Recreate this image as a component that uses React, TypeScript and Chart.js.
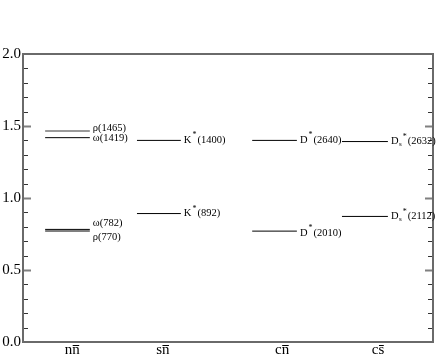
import React, { useEffect, useRef } from "react";
import { Chart, registerables } from "chart.js";

Chart.register(...registerables);

// ---- data ----
const categories = ["nn\u0304", "sn\u0304", "cn\u0304", "cs\u0304"];
const stateNames = [
  "ρ(1465)", "ω(1419)", "ω(782)", "ρ(770)",
  "K^*(1400)", "K^*(892)",
  "D^*(2640)", "D^*(2010)",
  "D_s^*(2632)", "D_s^*(2112)",
];
const stateCategory = [0, 0, 0, 0, 1, 1, 2, 2, 3, 3];
const stateValues = [1.465, 1.419, 0.782, 0.770, 1.400, 0.892, 1.400, 0.770, 1.392, 0.872];
const yTicks = [0.0, 0.5, 1.0, 1.5, 2.0];

// ---- layout / style (not data) ----
const catLabelPos = [1.2, 3.41, 6.32, 8.66];
const segStart = [0.54, 2.78, 5.59, 7.78];
const segEnd = [1.63, 3.85, 6.68, 8.9];
const stateColor = ["#9a9a9a", "#000", "#000", "#555", "#000", "#000", "#000", "#000", "#000", "#000"];
const stateWidth = [2, 1, 1, 1.5, 1, 1, 1, 1, 1, 1];
const labelDy = [-3, 1, -6, 6, 0, 0, 0, 2, 0, 0];
const SERIF = "'Liberation Serif', 'DejaVu Serif', serif";

function parseLabel(s: string) {
  const m = s.match(/^([^_^(]+)(?:_(\w))?(?:\^(\*))?(\(.*\))$/);
  if (!m) return { base: s, sub: "", sup: "", rest: "" };
  return { base: m[1], sub: m[2] || "", sup: m[3] || "", rest: m[4] };
}

const decorPlugin = {
  id: "decor",
  afterDraw(chart: any) {
    const ctx = chart.ctx as CanvasRenderingContext2D;
    const { left, right, top, bottom } = chart.chartArea;
    const ys = chart.scales.y;
    const xs = chart.scales.x;
    ctx.save();
    // ticks
    for (let i = 1; i < 20; i++) {
      const v = i / 10;
      const py = Math.round(ys.getPixelForValue(v)) + 0.5;
      const major = i % 5 === 0;
      ctx.beginPath();
      ctx.strokeStyle = major ? "#808080" : "#333";
      ctx.lineWidth = major ? 2 : 1;
      const len = major ? 8 : 5;
      ctx.moveTo(left, py);
      ctx.lineTo(left + len, py);
      ctx.moveTo(right, py);
      ctx.lineTo(right - len, py);
      ctx.stroke();
    }
    // frame
    ctx.strokeStyle = "#6a6a6a";
    ctx.lineWidth = 2;
    ctx.strokeRect(left, top, right - left, bottom - top);

    // y tick labels
    ctx.fillStyle = "#000";
    ctx.font = `15px ${SERIF}`;
    ctx.textAlign = "right";
    ctx.textBaseline = "middle";
    yTicks.forEach((v) => {
      ctx.fillText(v.toFixed(1), left - 2, ys.getPixelForValue(v));
    });

    // category labels
    ctx.textBaseline = "top";
    ctx.textAlign = "left";
    categories.forEach((c, i) => {
      const txt = c.replace("\u0304", "");
      const w = ctx.measureText(txt).width;
      const lastW = ctx.measureText(txt.slice(-1)).width;
      const cx = xs.getPixelForValue(catLabelPos[i]);
      const x0 = cx - w / 2;
      const ty = bottom + 1;
      ctx.fillText(txt, x0, ty);
      ctx.beginPath();
      ctx.strokeStyle = "#000";
      ctx.lineWidth = 1;
      ctx.moveTo(x0 + w - lastW + 0.5, ty + 2.5);
      ctx.lineTo(x0 + w - 0.5, ty + 2.5);
      ctx.stroke();
    });

    // state labels
    ctx.textBaseline = "middle";
    stateNames.forEach((name, i) => {
      const p = parseLabel(name);
      let x = xs.getPixelForValue(segEnd[stateCategory[i]]) + 3;
      const y = ys.getPixelForValue(stateValues[i]) + labelDy[i];
      ctx.font = `10.5px ${SERIF}`;
      ctx.fillText(p.base, x, y);
      x += ctx.measureText(p.base).width;
      if (p.sub) {
        ctx.font = `7px ${SERIF}`;
        ctx.fillText(p.sub, x + 0.5, y + 3);
        x += ctx.measureText(p.sub).width + 0.5;
      }
      if (p.sup) {
        ctx.font = `8px ${SERIF}`;
        ctx.fillText(p.sup, x + 1, y - 5);
        x += ctx.measureText(p.sup).width + 2;
      }
      ctx.font = `10.5px ${SERIF}`;
      ctx.fillText(p.rest, x, y);
    });
    ctx.restore();
  },
};

export default function App() {
  const ref = useRef<HTMLCanvasElement | null>(null);
  useEffect(() => {
    if (!ref.current) return;
    const datasets = stateNames.map((n, i) => ({
      label: n,
      data: [
        { x: segStart[stateCategory[i]], y: stateValues[i] },
        { x: segEnd[stateCategory[i]], y: stateValues[i] },
      ],
      showLine: true,
      borderColor: stateColor[i],
      backgroundColor: stateColor[i],
      borderWidth: stateWidth[i],
      pointRadius: 0,
    }));
    const chart = new Chart(ref.current, {
      type: "scatter",
      data: { datasets },
      options: {
        responsive: false,
        devicePixelRatio: 1,
        animation: false,
        layout: { padding: { top: 54, right: 3, left: 0, bottom: 0 } },
        plugins: { legend: { display: false }, tooltip: { enabled: false } },
        scales: {
          x: {
            type: "linear",
            min: 0,
            max: 10,
            ticks: { display: false },
            grid: { display: false, drawTicks: false },
            border: { display: false },
            afterFit: (s: any) => { s.height = 14; },
          },
          y: {
            min: 0,
            max: 2,
            afterBuildTicks: (s: any) => { s.ticks = yTicks.map((v) => ({ value: v })); },
            ticks: { display: false },
            grid: { display: false, drawTicks: false },
            border: { display: false },
            afterFit: (s: any) => { s.width = 23; },
          },
        },
      },
      plugins: [decorPlugin],
    } as any);
    return () => chart.destroy();
  }, []);
  return (
    <div style={{ position: "absolute", left: 0, top: 0, width: 436, height: 356 }}>
      <canvas ref={ref} width={436} height={356} />
    </div>
  );
}
